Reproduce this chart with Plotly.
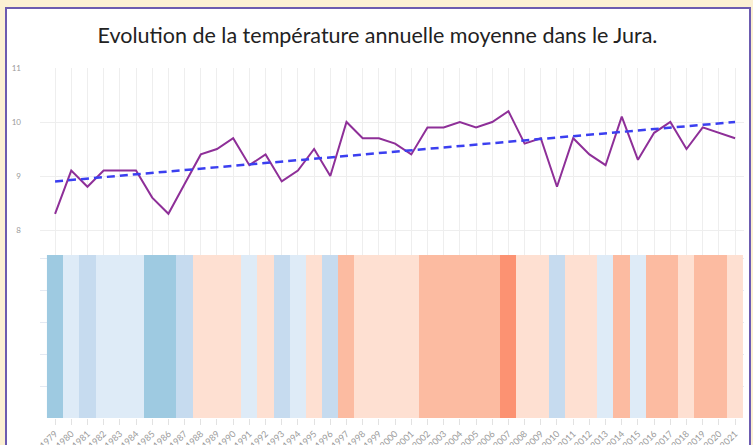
import plotly.graph_objects as go
from plotly.subplots import make_subplots

years = list(range(1979, 2022))
temps = [8.3, 9.1, 8.8, 9.1, 9.1, 9.1, 8.6, 8.3, 8.85, 9.4,
         9.5, 9.7, 9.2, 9.4, 8.9, 9.1, 9.5, 9.0, 10.0, 9.7,
         9.7, 9.6, 9.4, 9.9, 9.9, 10.0, 9.9, 10.0, 10.2, 9.6,
         9.7, 8.8, 9.7, 9.4, 9.2, 10.1, 9.3, 9.8, 10.0, 9.5,
         9.9, 9.8, 9.7]
# stripe class per year (-3 .. +3) read from the warming stripes
stripe_class = [-3, -1, -2, -1, -1, -1, -3, -3, -2, 1,
                 1, 1, -1, 1, -2, -1, 1, -2, 2, 1,
                 1, 1, 1, 2, 2, 2, 2, 2, 3, 1,
                 1, -2, 1, 1, -1, 2, -1, 2, 2, 1,
                 2, 2, 1]
trend_years = [1979, 2021]
trend_values = [8.9, 10.0]
title_text = "Evolution de la température annuelle moyenne dans le Jura."

stripe_colors = ["#9ecae1", "#c6dbef", "#deebf7", "#ffffff", "#fee0d2", "#fcbba1", "#fc9272"]
cs = []
n = len(stripe_colors)
for i, c in enumerate(stripe_colors):
    cs.append([i / n, c])
    cs.append([(i + 1) / n, c])

W, H = 753, 445
ml, mr, mt, mb = 40, 9, 68, 27
pw, ph = W - ml - mr, H - mt - mb
split = (418 - 255) / ph

fig = make_subplots(rows=2, cols=1, shared_xaxes=True, vertical_spacing=0,
                    row_heights=[1 - split, split])

fig.add_trace(go.Scatter(x=years, y=temps, mode="lines",
                         line=dict(color="#8e2f98", width=2),
                         showlegend=False, hoverinfo="x+y"), row=1, col=1)
fig.add_trace(go.Scatter(x=trend_years, y=trend_values, mode="lines",
                         line=dict(color="#3b3ff0", width=2.5, dash="8px,5px"),
                         showlegend=False), row=1, col=1)
fig.add_trace(go.Heatmap(x=years, y=[0, 5.1], z=[stripe_class],
                         zmin=-3.5, zmax=3.5, colorscale=cs, showscale=False,
                         xgap=0), row=2, col=1)

xr = [1978.07, 2021.55]
grid = "#eeeeee"
tf = dict(size=8, color="#9a9a9a", family="Lato")
fig.update_xaxes(range=xr, dtick=1, showgrid=True, gridcolor=grid, gridwidth=1,
                 zeroline=False, showline=False, automargin=False)
fig.update_xaxes(showticklabels=False, row=1, col=1)
fig.update_xaxes(showticklabels=True, ticks="outside", ticklen=6, tickcolor="#e2e2e2",
                 tickangle=-45, tickfont=dict(size=9, color="#9a9a9a", family="Lato"),
                 tickvals=years, ticktext=[str(y) for y in years], row=2, col=1)
fig.update_yaxes(range=[8 - 25 / 54, 11.0], dtick=1, tick0=8, showgrid=True,
                 gridcolor=grid, zeroline=False, showline=False, automargin=False,
                 tickfont=tf, ticklabelstandoff=18, row=1, col=1)
fig.update_yaxes(range=[0, 5.1], dtick=1, showgrid=True, gridcolor="#e4e9f2",
                 showticklabels=False, zeroline=False, showline=False,
                 automargin=False, row=2, col=1)

fig.add_shape(type="rect", xref="paper", yref="paper",
              x0=(6 - ml) / pw, x1=(750 - ml) / pw,
              y0=(418 - 470) / ph, y1=(418 - 8) / ph,
              fillcolor="white", line=dict(color="#6c5bb0", width=2), layer="below")

fig.update_layout(
    width=W, height=H,
    margin=dict(l=ml, r=mr, t=mt, b=mb, autoexpand=False),
    paper_bgcolor="#fbf0d3", plot_bgcolor="rgba(0,0,0,0)",
    title=dict(text=title_text, x=(377.5) / W, xanchor="center", xref="container",
               y=1 - 35 / H, yanchor="middle", yref="container",
               font=dict(family="Lato", size=21.5, color="#222222")),
)

fig.write_html("out.html", config={"displayModeBar": False},
               post_script="document.body.style.margin='0';document.body.style.overflow='hidden';")
